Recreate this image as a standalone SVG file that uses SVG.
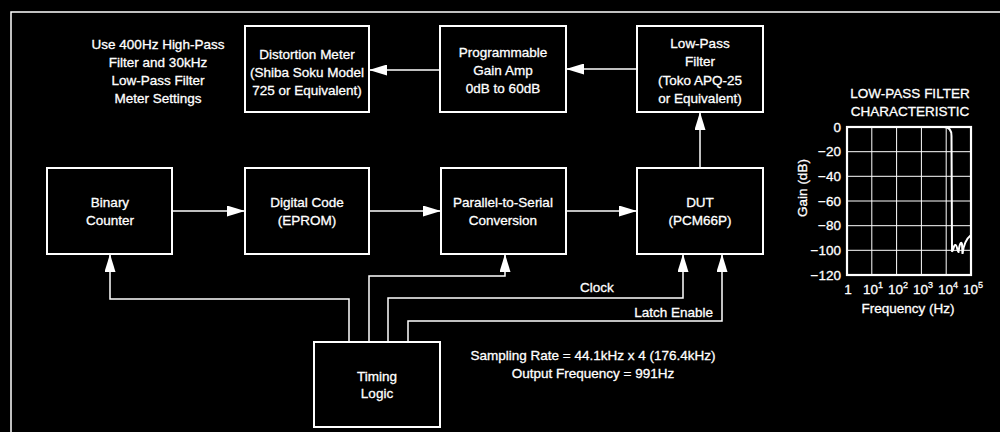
<svg xmlns="http://www.w3.org/2000/svg" width="1000" height="432" viewBox="0 0 1000 432">
<defs>
<style>
text{font-family:"Liberation Sans",Arial,sans-serif;font-size:13.5px;fill:#fff;stroke:#fff;stroke-width:0.3;}
.c{text-anchor:middle;}
.r{text-anchor:end;}
.box{fill:none;stroke:#fff;stroke-width:2;}
.wire{fill:none;stroke:#fff;stroke-width:1.5;}
.grid{fill:none;stroke:#fff;stroke-width:1;}
.frame{fill:none;stroke:#fff;stroke-width:2.2;}
.sup{font-size:9px;}
</style>
<marker id="ah" viewBox="0 0 18 11" refX="18" refY="5.5" markerWidth="18" markerHeight="11" markerUnits="userSpaceOnUse" orient="auto">
<path d="M0,0 L18,5.5 L0,11 Z" fill="#fff"/>
</marker>
</defs>
<rect x="0" y="0" width="1000" height="432" fill="#000"/>
<g id="border">
<path d="M11,432 L11,12 L1000,12" class="wire"/>
</g>
<g id="note">
<text class="c" x="158" y="49">Use 400Hz High-Pass</text>
<text class="c" x="158" y="67">Filter and 30kHz</text>
<text class="c" x="158" y="85">Low-Pass Filter</text>
<text class="c" x="158" y="103">Meter Settings</text>
</g>
<g id="distortion">
<rect class="box" x="245" y="26" width="124" height="86"/>
<text class="c" x="307" y="59">Distortion Meter</text>
<text class="c" x="307" y="77">(Shiba Soku Model</text>
<text class="c" x="307" y="95">725 or Equivalent)</text>
</g>
<g id="pga">
<rect class="box" x="440" y="26" width="126" height="86"/>
<text class="c" x="503" y="57">Programmable</text>
<text class="c" x="503" y="75">Gain Amp</text>
<text class="c" x="503" y="93">0dB to 60dB</text>
</g>
<g id="lpf">
<rect class="box" x="637" y="26" width="126" height="86"/>
<text class="c" x="700" y="48">Low-Pass</text>
<text class="c" x="700" y="66">Filter</text>
<text class="c" x="700" y="85">(Toko APQ-25</text>
<text class="c" x="700" y="103">or Equivalent)</text>
</g>
<g id="counter">
<rect class="box" x="47" y="168" width="125" height="86"/>
<text class="c" x="110" y="207">Binary</text>
<text class="c" x="110" y="225">Counter</text>
</g>
<g id="eprom">
<rect class="box" x="245" y="168" width="124" height="86"/>
<text class="c" x="307" y="207">Digital Code</text>
<text class="c" x="307" y="225">(EPROM)</text>
</g>
<g id="pts">
<rect class="box" x="441" y="168" width="125" height="86"/>
<text class="c" x="503" y="207">Parallel-to-Serial</text>
<text class="c" x="503" y="225">Conversion</text>
</g>
<g id="dut">
<rect class="box" x="637" y="168" width="126" height="86"/>
<text class="c" x="700" y="207">DUT</text>
<text class="c" x="700" y="225">(PCM66P)</text>
</g>
<g id="timing">
<rect class="box" x="314" y="342" width="126" height="85"/>
<text class="c" x="377" y="381">Timing</text>
<text class="c" x="377" y="398">Logic</text>
</g>
<g id="connectors">
<path class="wire" d="M440,70 L369,70" marker-end="url(#ah)"/>
<path class="wire" d="M637,69 L566,69" marker-end="url(#ah)"/>
<path class="wire" d="M700,168 L700,112" marker-end="url(#ah)"/>
<path class="wire" d="M172,211 L245,211" marker-end="url(#ah)"/>
<path class="wire" d="M369,211 L441,211" marker-end="url(#ah)"/>
<path class="wire" d="M566,211 L637,211" marker-end="url(#ah)"/>
<path class="wire" d="M349,342 L349,299 L110,299 L110,254" marker-end="url(#ah)"/>
<path class="wire" d="M369,342 L369,276 L505,276 L505,254" marker-end="url(#ah)"/>
<path class="wire" d="M388,342 L388,298 L683,298 L683,254" marker-end="url(#ah)"/>
<path class="wire" d="M408,342 L408,321 L722,321 L722,254" marker-end="url(#ah)"/>
<text class="c" x="597" y="292">Clock</text>
<text class="r" x="713" y="317">Latch Enable</text>
</g>
<g id="rates">
<text class="c" x="593" y="360">Sampling Rate = 44.1kHz x 4 (176.4kHz)</text>
<text class="c" x="593" y="378">Output Frequency = 991Hz</text>
</g>
<g id="chart">
<text class="c" x="910" y="98">LOW-PASS FILTER</text>
<text class="c" x="910" y="116">CHARACTERISTIC</text>
<path class="grid" d="M871.8,127 V275 M896.6,127 V275 M921.4,127 V275 M946.2,127 V275 M847,151.7 H971 M847,176.3 H971 M847,201 H971 M847,225.7 H971 M847,250.3 H971"/>
<rect class="frame" x="847" y="127" width="124" height="148"/>
<path d="M847,127 L944,127 C949,127 951.5,130 951.5,136 L952,251 C953,252 954,244 955.5,245 C957,245 957.5,252 958.5,252 C959.5,244 961,241 962,244 L962.5,254 C963.5,244 966,239 971,235" fill="none" stroke="#fff" stroke-width="2"/>
<text class="r" x="841" y="132">0</text>
<text class="r" x="841" y="156">−20</text>
<text class="r" x="841" y="181">−40</text>
<text class="r" x="841" y="206">−60</text>
<text class="r" x="841" y="230">−80</text>
<text class="r" x="841" y="255">−100</text>
<text class="r" x="841" y="280">−120</text>
<text class="c" x="848" y="294">1</text>
<text class="c" x="873" y="294">10<tspan class="sup" dy="-6">1</tspan></text>
<text class="c" x="898" y="294">10<tspan class="sup" dy="-6">2</tspan></text>
<text class="c" x="923" y="294">10<tspan class="sup" dy="-6">3</tspan></text>
<text class="c" x="948" y="294">10<tspan class="sup" dy="-6">4</tspan></text>
<text class="c" x="973" y="294">10<tspan class="sup" dy="-6">5</tspan></text>
<text class="c" x="908" y="313">Frequency (Hz)</text>
<text class="c" transform="translate(807,188) rotate(-90)">Gain (dB)</text>
</g>
</svg>
